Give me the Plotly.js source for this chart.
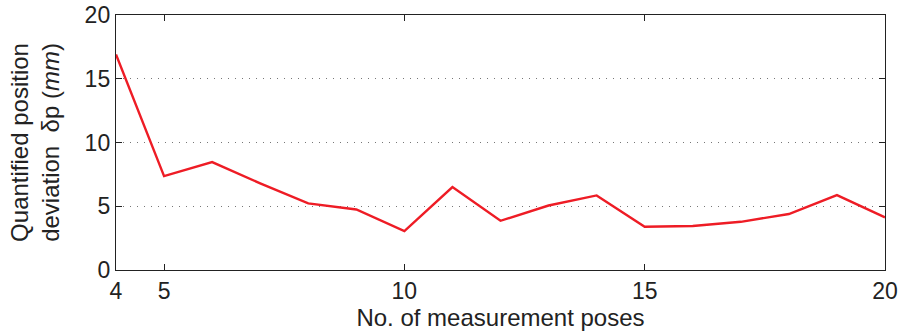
<!DOCTYPE html>
<html><head><meta charset="utf-8">
<script src="https://cdn.plot.ly/plotly-3.0.1.min.js"></script>
<style>html,body{margin:0;padding:0;background:#fff}#chart{width:900px;height:331px}</style>
</head><body><div id="chart"></div>
<script>
const poses = [4,5,6,7,8,9,10,11,12,13,14,15,16,17,18,19,20];
const deviation = [16.9,7.36,8.46,6.8,5.22,4.75,3.05,6.5,3.86,5.06,5.85,3.39,3.45,3.78,4.39,5.87,4.13];
const xTicks = [4,5,10,15,20];
const yTicks = [0,5,10,15,20];

const font = {family:'"Liberation Sans", Arial, sans-serif', color:'#222'};
const trace = {x:poses, y:deviation, mode:'lines', line:{color:'#ee1c25', width:2.4}, hoverinfo:'skip'};
const layout = {
  width:900, height:331,
  margin:{l:116, r:15, t:15, b:61},
  paper_bgcolor:'#fff', plot_bgcolor:'#fff',
  showlegend:false,
  font:Object.assign({size:23}, font),
  xaxis:{range:[4,20], tickvals:xTicks, ticktext:xTicks.map(String), ticks:'inside', ticklen:6, tickcolor:'#222',
    showline:true, linecolor:'#222', linewidth:1.2, mirror:'ticks', showgrid:false, zeroline:false,
    tickfont:Object.assign({size:23}, font),
    title:{text:'No. of measurement poses', font:Object.assign({size:24}, font), standoff:0}},
  yaxis:{range:[0,20], tickvals:yTicks, ticktext:yTicks.map(String), ticks:'inside', ticklen:6, tickcolor:'#222',
    showline:true, linecolor:'#222', linewidth:1.2, mirror:'ticks', showgrid:true, gridcolor:'#777', griddash:'1px,6px', gridwidth:1,
    zeroline:false, tickfont:Object.assign({size:23}, font),
    title:{text:'Quantified position<br>deviation  δp (<i>mm</i>)', font:Object.assign({size:24}, font), standoff:18}}
};
Plotly.newPlot('chart', [trace], layout, {displayModeBar:false, staticPlot:true});
</script></body></html>
